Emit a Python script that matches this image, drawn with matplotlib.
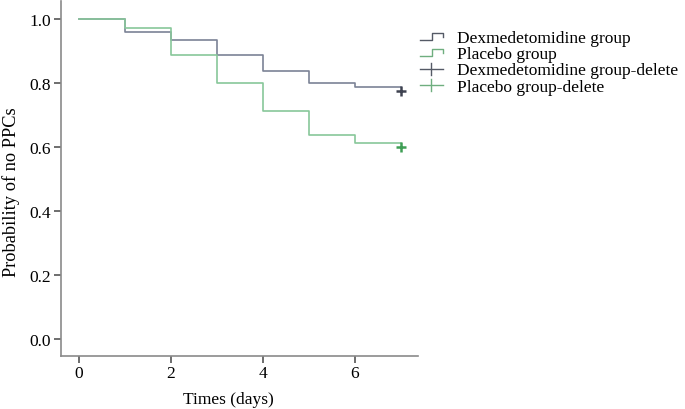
import matplotlib
matplotlib.use("Agg")
import matplotlib.pyplot as plt
from matplotlib.lines import Line2D
from matplotlib.legend_handler import HandlerBase

# ---- data ----
days = [0, 1, 2, 3, 4, 5, 6, 7]
dex_surv = [1.0, 0.960, 0.935, 0.886, 0.837, 0.800, 0.786, 0.786]
pla_surv = [1.0, 0.973, 0.886, 0.800, 0.711, 0.636, 0.611, 0.611]
censor_day = [7]
dex_censor = [0.776]
pla_censor = [0.601]
xticks = [0, 2, 4, 6]
yticks = [0.0, 0.2, 0.4, 0.6, 0.8, 1.0]
labels = ["Dexmedetomidine group", "Placebo group",
          "Dexmedetomidine group-delete", "Placebo group-delete"]

dex_col = "#7c8396"
pla_col = "#88c79a"
dex_mk = "#3e4250"
pla_mk = "#3f9e55"
axis_col = "#8a8a8a"

plt.rcParams["font.family"] = ["Liberation Serif", "DejaVu Serif"]

fig = plt.figure(figsize=(6.85, 4.10), dpi=100)
ax = fig.add_axes([61 / 685, 1 - 356.7 / 410, (418 - 61) / 685, (356.7 - 2) / 410])

ax.step(days, dex_surv, where="post", color=dex_col, lw=1.2)
ax.step(days, pla_surv, where="post", color=pla_col, lw=1.2)
ax.plot(censor_day, dex_censor, ls="none", marker="+", ms=7, mew=1.8, color=dex_mk)
ax.plot(censor_day, pla_censor, ls="none", marker="+", ms=7, mew=1.8, color=pla_mk)

ax.set_xlim(-0.39, 7.37)
ax.set_ylim(-0.052, 1.056)
ax.set_xticks(xticks)
ax.set_xticklabels([str(t) for t in xticks])
ax.set_yticks(yticks)
ax.set_yticklabels([f"{t:.1f}" for t in yticks])
for s in ["top", "right"]:
    ax.spines[s].set_visible(False)
for s in ["left", "bottom"]:
    ax.spines[s].set_color(axis_col)
    ax.spines[s].set_linewidth(1.2)
ax.tick_params(direction="out", length=5, width=1.2, color="#555555",
               labelsize=12.5, pad=2)
ax.set_xlabel("Times (days)", fontsize=12.5)
ax.set_ylabel("Probability of no PPCs", fontsize=13.2)
ax.xaxis.set_label_coords((228 - 61) / (418 - 61), -0.1)
ax.yaxis.set_label_coords(-0.114, 0.464)


class StepHandler(HandlerBase):
    def create_artists(self, legend, orig_handle, xdescent, ydescent,
                       width, height, fontsize, trans):
        w = width
        h = height
        x0 = -xdescent
        y0 = -ydescent
        lo = y0 + 0.2 * h
        hi = y0 + 0.75 * h
        xs = [x0, x0 + 0.55 * w, x0 + 0.55 * w, x0 + w, x0 + w]
        ys = [lo, lo, hi, hi, y0 + 0.4 * h]
        ln = Line2D(xs, ys, color=orig_handle.get_color(), lw=1.0, transform=trans)
        return [ln]


class PlusHandler(HandlerBase):
    def create_artists(self, legend, orig_handle, xdescent, ydescent,
                       width, height, fontsize, trans):
        w = width
        h = height
        x0 = -xdescent
        y0 = -ydescent
        cy = y0 + 0.45 * h
        l1 = Line2D([x0, x0 + w], [cy, cy], color=orig_handle.get_color(), lw=1.0, transform=trans)
        l2 = Line2D([x0 + 0.5 * w, x0 + 0.5 * w], [cy - 0.5 * h, cy + 0.5 * h],
                    color=orig_handle.get_color(), lw=1.0, transform=trans)
        return [l1, l2]


h1 = Line2D([], [], color="#555a66")
h2 = Line2D([], [], color="#6fae7f")
h3 = Line2D([], [], color="#555a66")
h4 = Line2D([], [], color="#6fae7f")
leg = fig.legend([h1, h2, h3, h4], labels,
                 handler_map={h1: StepHandler(), h2: StepHandler(),
                              h3: PlusHandler(), h4: PlusHandler()},
                 loc="upper left", bbox_to_anchor=(420 / 685, 1 - 31 / 410),
                 frameon=False, fontsize=12.5, handlelength=1.3,
                 handletextpad=0.85, labelspacing=0.0, borderpad=0, borderaxespad=0)

fig.savefig("out.png", dpi=100)
